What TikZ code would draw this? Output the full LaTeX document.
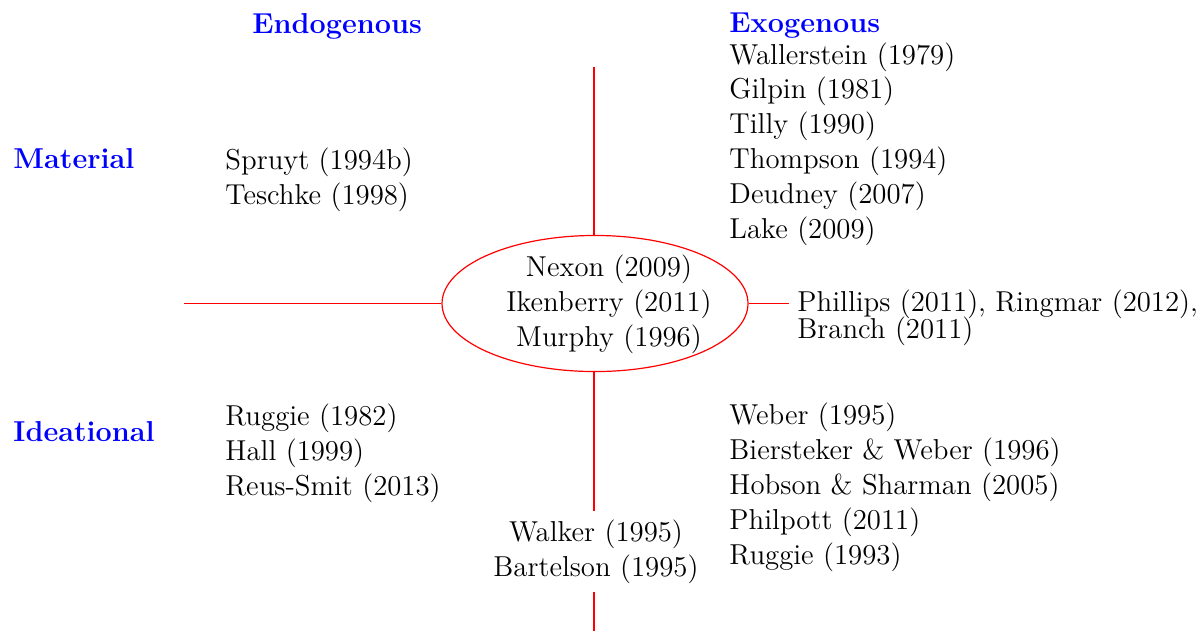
\documentclass[tikz,border=0pt]{standalone}
\usetikzlibrary{shapes.geometric}
\begin{document}
\begin{tikzpicture}[x=0.4167pt,y=-0.4167pt,
  lst/.style={font=\fontsize{12pt}{14.5pt}\selectfont, align=left, anchor=base west, inner sep=0pt},
  hdr/.style={font=\fontsize{12pt}{14.5pt}\selectfont\bfseries, text=blue, anchor=base west, inner sep=0pt},
  axis/.style={draw=red, line width=0.5pt}]
\useasboundingbox (0,0) rectangle (1202,631);
% headers
\node[hdr] (endo) at (252,33) {Endogenous};
\node[hdr] (exo) at (729,32) {Exogenous};
\node[hdr] (mat) at (13,168) {Material};
\node[hdr] (idea) at (13,441) {Ideational};
% lists (anchored at the baseline of their last line)
\node[lst] (exolist) at (729,238) {Wallerstein (1979)\\Gilpin (1981)\\Tilly (1990)\\Thompson (1994)\\Deudney (2007)\\Lake (2009)};
\node[lst] (matendo) at (225,204) {Spruyt (1994b)\\Teschke (1998)};
\node[lst] (ideaendo) at (225,495) {Ruggie (1982)\\Hall (1999)\\Reus-Smit (2013)};
\node[lst] (ideaexo) at (729,564) {Weber (1995)\\Biersteker \& Weber (1996)\\Hobson \& Sharman (2005)\\Philpott (2011)\\Ruggie (1993)};
% ellipse
\node[ellipse, axis, inner sep=0pt, minimum width=127.5pt, minimum height=56.7pt] (ell) at (595,303.5) {};
\node[font=\fontsize{12pt}{14.5pt}\selectfont, align=center, anchor=base, inner sep=0pt] (elltext) at (609,346) {Nexon (2009)\\Ikenberry (2011)\\Murphy (1996)};
% bottom node
\node[font=\fontsize{12pt}{14.5pt}\selectfont, align=center, anchor=base] (walk) at (596,576) {Walker (1995)\\Bartelson (1995)};
% right node
\node[font=\fontsize{12pt}{14.5pt}\selectfont, align=left, anchor=base west] (phil) at (789,338.3) {Phillips (2011), Ringmar (2012),\\[-3.4pt]Branch (2011)};
% axes
\coordinate (vt) at (594,67);
\coordinate (vb) at (594,631);
\coordinate (hl) at (184,303.5);
\draw[axis] (vt) -- (ell.north -| vt);
\draw[axis] (ell.south -| vt) -- (walk.north -| vt);
\draw[axis] (walk.south -| vt) -- (vb);
\draw[axis] (hl) -- (ell.west);
\draw[axis] (ell.east) -- (ell.east -| phil.west);
\end{tikzpicture}
\end{document}
